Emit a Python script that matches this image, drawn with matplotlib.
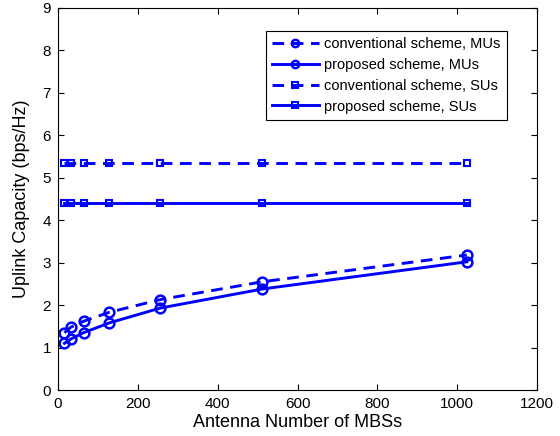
import matplotlib
matplotlib.use("Agg")
import matplotlib.pyplot as plt

plt.rcParams['font.family'] = ['Liberation Sans', 'DejaVu Sans']

antennas = [16, 32, 64, 128, 256, 512, 1024]
conv_mu = [1.35, 1.48, 1.62, 1.83, 2.13, 2.55, 3.18]
prop_mu = [1.10, 1.20, 1.35, 1.58, 1.93, 2.38, 3.02]
conv_su = [5.35, 5.35, 5.35, 5.35, 5.35, 5.35, 5.35]
prop_su = [4.40, 4.40, 4.40, 4.40, 4.40, 4.40, 4.40]

blue = '#0000ff'
fig = plt.figure(figsize=(5.6, 4.36), dpi=100)
ax = fig.add_axes([0.1036, 0.1055, 0.8554, 0.8762])

ax.plot(antennas, conv_mu, '--o', color=blue, lw=2.1, ms=7, mew=1.8, mfc='none',
        label='conventional scheme, MUs', dashes=(4, 2.6))
ax.plot(antennas, prop_mu, '-o', color=blue, lw=2.1, ms=7, mew=1.8, mfc='none',
        label='proposed scheme, MUs')
ax.plot(antennas, conv_su, '--s', color=blue, lw=2.1, ms=5, mew=1.5, mfc='none',
        label='conventional scheme, SUs', dashes=(4, 2.6))
ax.plot(antennas, prop_su, '-s', color=blue, lw=2.1, ms=5, mew=1.5, mfc='none',
        label='proposed scheme, SUs')

ax.set_xlim(0, 1200)
ax.set_ylim(0, 9)
ax.set_xticks(range(0, 1201, 200))
ax.set_yticks(range(0, 10))
ax.tick_params(direction='in', top=True, right=True, labelsize=11, length=4, pad=5)
for s in ax.spines.values():
    s.set_linewidth(0.8)
ax.set_xlabel('Antenna Number of MBSs', fontsize=13, labelpad=2)
ax.set_ylabel('Uplink Capacity (bps/Hz)', fontsize=13, labelpad=9)

leg = ax.legend(loc='upper right', bbox_to_anchor=(0.937, 0.940), borderaxespad=0,
                fontsize=10.5, fancybox=False, edgecolor='black', framealpha=1,
                handlelength=3.2, handletextpad=0.35, borderpad=0.45,
                labelspacing=0.46, markerscale=0.75)
leg.get_frame().set_linewidth(0.8)

fig.savefig('out.png', dpi=100)
